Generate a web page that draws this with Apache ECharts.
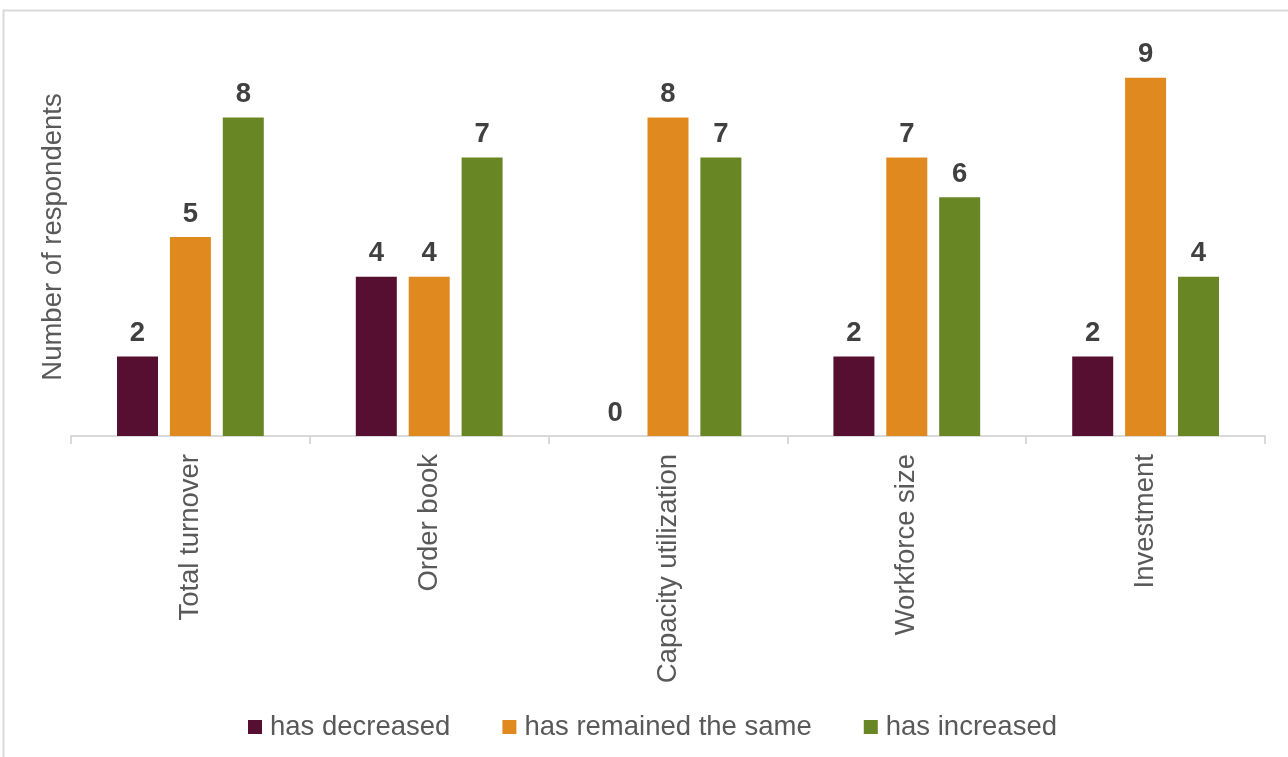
<!DOCTYPE html>
<html>
<head>
<meta charset="utf-8">
<script src="https://cdn.jsdelivr.net/npm/echarts@6/dist/echarts.min.js"></script>
<style>
html,body{margin:0;padding:0;background:#fff;}
#c{width:1288px;height:757px;}
</style>
</head>
<body>
<div id="c"></div>
<script>
const categories = ['Total turnover', 'Order book', 'Capacity utilization', 'Workforce size', 'Investment'];
const decreased = [2, 4, 0, 2, 2];
const remained = [5, 4, 8, 7, 9];
const increased = [8, 7, 7, 6, 4];
const seriesNames = ['has decreased', 'has remained the same', 'has increased'];
const colors = ['#560F31', '#E0891F', '#688623'];

const chart = echarts.init(document.getElementById('c'));
const font = 'Liberation Sans, Arial, sans-serif';
const labelCfg = {
  show: true, position: 'top', distance: 9,
  fontFamily: font, fontSize: 27.5, fontWeight: 'bold', color: '#404040'
};
function mk(name, data, color) {
  return {
    name, type: 'bar', data,
    barWidth: 41, barGap: '29%',
    itemStyle: { color },
    label: labelCfg
  };
}
chart.setOption({
  animation: false,
  color: colors,
  graphic: [{
    type: 'rect', silent: true,
    shape: { x: 3.5, y: 10.5, width: 1400, height: 900 },
    style: { fill: 'none', stroke: '#d9d9d9', lineWidth: 2 }
  }],
  grid: { left: 71, right: 23, top: 38, bottom: 321, containLabel: false },
  legend: {
    top: 713, left: 248, padding: 0,
    itemWidth: 14, itemHeight: 14, itemGap: 52,
    icon: 'rect',
    textStyle: { fontFamily: font, fontSize: 27.5, color: '#595959', padding: [0, 0, 0, 3] },
    data: seriesNames
  },
  xAxis: {
    type: 'category', data: categories,
    axisLine: { lineStyle: { color: '#d9d9d9', width: 2 } },
    axisTick: { show: true, length: 8, alignWithLabel: false, lineStyle: { color: '#d9d9d9', width: 2 } },
    axisLabel: { rotate: 90, margin: 18, fontFamily: font, fontSize: 27.5, color: '#595959', interval: 0 }
  },
  yAxis: {
    type: 'value', min: 0, max: 10, interval: 2,
    name: 'Number of respondents', nameLocation: 'middle', nameGap: 4,
    nameRotate: 90,
    nameTextStyle: { fontFamily: font, fontSize: 27.5, color: '#595959' },
    axisLine: { show: false }, axisTick: { show: false },
    axisLabel: { show: false }, splitLine: { show: false }
  },
  series: [
    mk(seriesNames[0], decreased, colors[0]),
    mk(seriesNames[1], remained, colors[1]),
    mk(seriesNames[2], increased, colors[2])
  ]
});
</script>
</body>
</html>
